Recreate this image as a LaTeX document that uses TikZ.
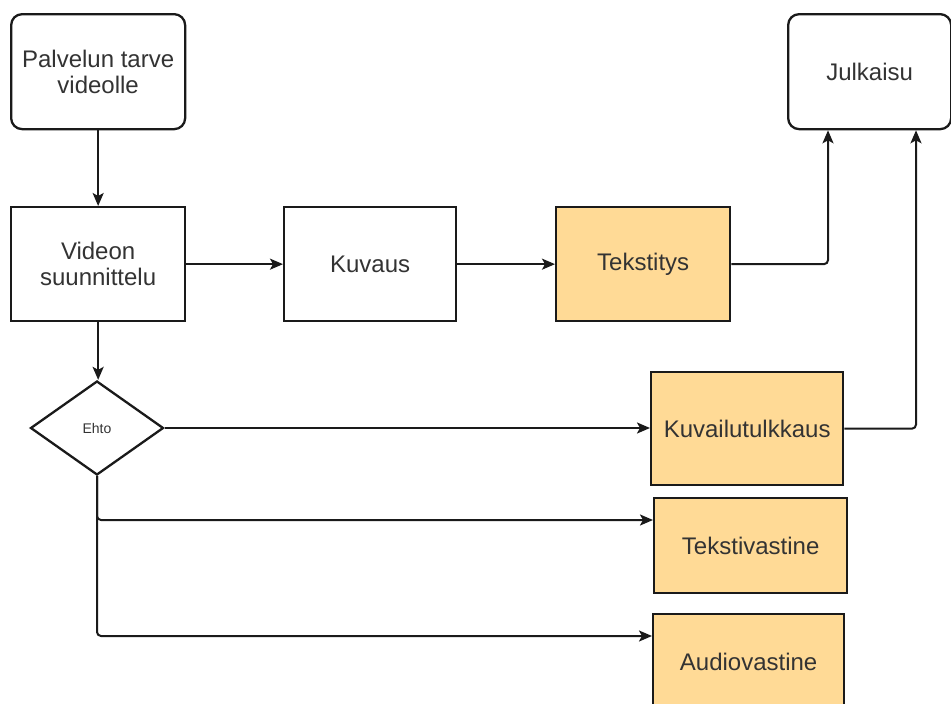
\documentclass[tikz,border=0pt]{standalone}
\usepackage{fontspec}
\setmainfont{Liberation Sans}
\usetikzlibrary{shapes.geometric,arrows.meta}
\definecolor{boxfill}{HTML}{FFDA96}
\definecolor{txt}{HTML}{333333}
\definecolor{ln}{HTML}{1A1A1A}
\tikzset{
  base/.style={draw=ln, line width=2.3pt, text=txt, align=center, inner sep=2pt,
    font=\fontsize{24}{26}\selectfont, anchor=north west},
  roundbox/.style={base, rounded corners=11pt, fill=white},
  plainbox/.style={base, fill=white},
  hlbox/.style={base, fill=boxfill},
  conn/.style={draw=ln, line width=2pt, rounded corners=4pt, -{Stealth[length=13pt,width=11pt,inset=3pt]}},
}
\begin{document}
\begin{tikzpicture}[x=1pt,y=-1pt]
\useasboundingbox (0,0) rectangle (951,704);
\clip (0,0) rectangle (951,704);
\fill[white] (0,0) rectangle (951,704);
\node[roundbox, minimum width=174pt, minimum height=115pt] (p) at (10,13) {Palvelun tarve\\videolle};
\node[roundbox, minimum width=163pt, minimum height=115pt] (j) at (787,13) {Julkaisu};
\node[plainbox, minimum width=174pt, minimum height=114pt] (v) at (10,206) {Videon\\suunnittelu};
\node[plainbox, minimum width=172pt, minimum height=114pt] (k) at (283,206) {Kuvaus};
\node[hlbox, minimum width=174pt, minimum height=114pt] (t) at (555,206) {Tekstitys};
\node[draw=ln, line width=2.3pt, fill=white, diamond, minimum width=133pt, minimum height=94pt, inner sep=0pt, text=txt, font=\fontsize{14}{16}\selectfont] (e) at (97,428) {Ehto};
\node[hlbox, minimum width=192pt, minimum height=113pt] (ku) at (650,371) {Kuvailutulkkaus};
\node[hlbox, minimum width=193pt, minimum height=95pt] (tv) at (653,497) {Tekstivastine};
\node[hlbox, minimum width=191pt, minimum height=95pt] (av) at (652,613) {Audiovastine};
\draw[conn] (p.south) -- (p.south |- v.north);
\draw[conn] (v.east) -- (v.east -| k.west);
\draw[conn] (k.east) -- (k.east -| t.west);
\draw[conn] (t.east) -| ([xshift=41pt]j.south west);
\draw[conn] (ku.east) -| ([xshift=129pt]j.south west);
\draw[conn] (v.south) -- (v.south |- e.north);
\draw[conn] (e.east) -- (e.east -| ku.west);
\draw[conn] (e.south) |- ([yshift=-23pt]tv.north west);
\draw[conn] (e.south) |- ([yshift=-23pt]av.north west);
\end{tikzpicture}
\end{document}
